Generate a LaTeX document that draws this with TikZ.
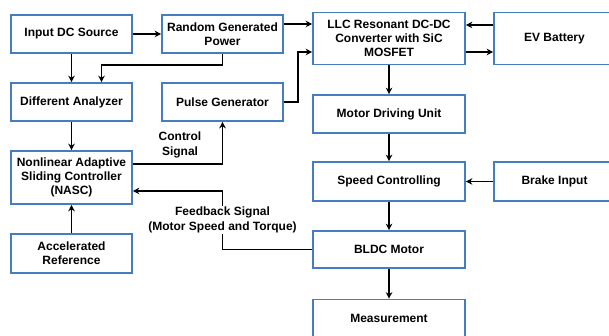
\documentclass[tikz,border=0pt]{standalone}
\usepackage{fontspec}
\setmainfont{Liberation Sans}
\usetikzlibrary{arrows.meta}
\definecolor{boxblue}{RGB}{70,125,192}
\begin{document}
\begin{tikzpicture}[x=1pt,y=1pt,
  blk/.style={draw=boxblue, line width=1.6pt, fill=white, minimum width=121pt, minimum height=38pt,
    align=center, inner sep=1pt, font=\fontsize{12}{14}\selectfont\bfseries},
  wide/.style={blk, minimum width=152pt},
  arr/.style={line width=1.2pt, -{Stealth[length=6.5pt,width=6.5pt,inset=2pt]}},
  lbl/.style={fill=white, align=center, inner sep=1pt, font=\fontsize{12}{15}\selectfont\bfseries}]
\useasboundingbox (0,0) rectangle (609,336);
\clip (0,0) rectangle (609,336);
\node[blk] (ids) at (71.5,302) {Input DC Source};
\node[blk] (rgp) at (222.5,302) {Random Generated\\Power};
\node[wide, minimum height=52pt] (llc) at (389,297.5) {LLC Resonant DC-DC\\Converter with SiC\\MOSFET};
\node[blk, minimum height=52pt] (ev) at (554.5,297.5) {EV Battery};
\node[blk] (da) at (71.5,234) {Different Analyzer};
\node[blk] (pg) at (222.5,234) {Pulse Generator};
\node[wide] (mdu) at (389,222) {Motor Driving Unit};
\node[wide, minimum height=39pt] (sc) at (389,154.5) {Speed Controlling};
\node[blk, minimum height=39pt] (bi) at (554.5,154.5) {Brake Input};
\node[wide, minimum height=37pt] (bldc) at (389,86.5) {BLDC Motor};
\node[wide] (meas) at (389,17.5) {Measurement};
\node[blk, minimum height=53pt] (nasc) at (71.5,158.5) {Nonlinear Adaptive\\Sliding Controller\\(NASC)};
\node[blk, minimum height=39pt] (ar) at (71.5,82.5) {Accelerated\\Reference};

\coordinate (c1) at (298,284);
\coordinate (c2) at (222.5,271);
\coordinate (c3) at (101.5,271);
\coordinate (c4) at (222.5,172);
\coordinate (c5) at (222.5,145);

\draw[arr] (ids.east) -- (rgp.west);
\draw[arr] (rgp.east |- 0,312) -- (llc.west |- 0,312);
\draw[arr] (pg.east) -| (c1) -- (llc.west |- c1);
\draw[arr] (ids.south) -- (da.north);
\draw[arr] (rgp.south) -- (c2) -- (c3) -- (c3 |- da.north);
\draw[arr] (da.south) -- (nasc.north);
\draw[arr] (nasc.east |- c4) -- (c4) -- (pg.south);
\draw[arr] (bldc.west) -| (c5) -- (nasc.east |- c5);
\draw[arr] (ar.north) -- (nasc.south);
\draw[arr] (llc.south) -- (mdu.north);
\draw[arr] (mdu.south) -- (sc.north);
\draw[arr] (sc.south) -- (bldc.north);
\draw[arr] (bldc.south) -- (meas.north);
\draw[arr] (ev.west |- 0,311) -- (llc.east |- 0,311);
\draw[arr] (llc.east |- c1) -- (ev.west |- c1);
\draw[arr] (bi.west) -- (sc.east);

\node[lbl, fill=none] (cs) at (180,191.5) {Control\\Signal};
\node[lbl] (fb) at (222.5,116) {Feedback Signal\\(Motor Speed and Torque)};
\end{tikzpicture}
\end{document}
